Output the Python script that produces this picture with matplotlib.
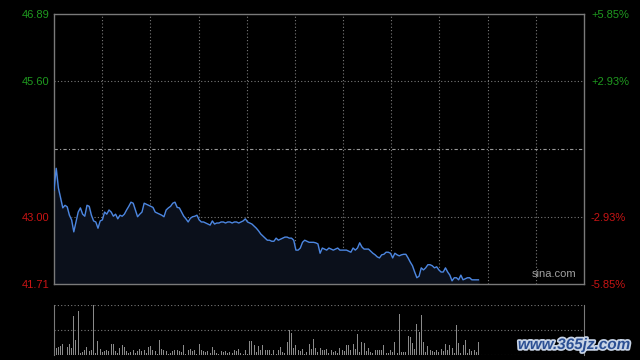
import matplotlib
matplotlib.use('Agg')
import matplotlib.pyplot as plt
import matplotlib.patheffects as pe

plt.rcParams['font.family'] = ['Liberation Sans', 'DejaVu Sans']

# price per minute (first part of the session)
price = [43.51, 43.93, 43.55, 43.36, 43.17, 43.22, 43.19, 43.03, 42.94, 42.71,
         42.90, 43.09, 43.17, 43.05, 43.01, 43.22, 43.20, 43.03, 42.92, 42.90,
         42.78, 42.92, 42.94, 43.09, 43.05, 43.13, 43.09, 43.01, 43.05, 42.96,
         43.03, 43.01, 43.05, 43.13, 43.20, 43.28, 43.26, 43.13, 43.00, 43.05,
         43.09, 43.26, 43.24, 43.22, 43.20, 43.18, 43.09, 43.07, 43.05, 43.03,
         43.00, 43.13, 43.17, 43.20, 43.26, 43.28, 43.18, 43.17, 43.09, 43.01,
         42.96, 42.90, 42.97, 43.00, 43.01, 43.03, 42.94, 42.90, 42.90, 42.88,
         42.86, 42.84, 42.92, 42.86, 42.88, 42.88, 42.90, 42.90, 42.88, 42.90,
         42.90, 42.88, 42.90, 42.90, 42.88, 42.90, 42.92, 42.96, 42.90, 42.88,
         42.86, 42.82, 42.78, 42.73, 42.67, 42.63, 42.59, 42.55, 42.55, 42.53,
         42.53, 42.59, 42.55, 42.57, 42.59, 42.61, 42.61, 42.59, 42.59, 42.55,
         42.36, 42.36, 42.40, 42.51, 42.55, 42.53, 42.51, 42.51, 42.51, 42.50,
         42.48, 42.30, 42.40, 42.38, 42.36, 42.40, 42.38, 42.36, 42.38, 42.40,
         42.36, 42.36, 42.36, 42.36, 42.34, 42.32, 42.40, 42.36, 42.40, 42.50,
         42.42, 42.38, 42.38, 42.38, 42.34, 42.30, 42.27, 42.23, 42.21, 42.27,
         42.28, 42.32, 42.32, 42.30, 42.21, 42.30, 42.27, 42.25, 42.27, 42.28,
         42.28, 42.21, 42.13, 42.06, 41.94, 41.83, 41.86, 42.02, 41.98, 42.02,
         42.08, 42.08, 42.06, 42.02, 42.04, 41.98, 41.94, 41.94, 42.02, 41.94,
         41.88, 41.77, 41.83, 41.83, 41.79, 41.88, 41.79, 41.81, 41.83, 41.83,
         41.79, 41.79, 41.79, 41.79]

volume = [90, 15, 17, 18, 22, 25, 17, 23, 15, 78, 30, 88, 5, 7, 11, 17, 9, 10, 100, 5,
          28, 13, 6, 8, 10, 8, 22, 22, 8, 5, 15, 20, 17, 8, 5, 7, 11, 5, 9, 13,
          8, 10, 5, 17, 18, 10, 8, 3, 31, 13, 11, 8, 3, 5, 9,
          10, 11, 9, 7, 20, 3, 11, 13, 8, 10, 3, 23, 10, 8, 7, 8, 5,
          17, 10, 5, 3, 8, 7, 8, 5, 7, 5, 10, 8, 13, 5, 3,
          10, 3, 28, 28, 20, 7, 18, 10, 20, 11, 11, 11, 3, 11, 3, 11, 17,
          7, 5, 27, 50, 45, 15, 20, 10, 9, 13, 3, 7, 22, 13, 33, 15, 7, 15,
          10, 11, 13, 5, 10, 7, 8, 5,
          15, 11, 9, 21, 20, 10, 23, 13, 42, 7, 27, 25, 9, 15, 7, 5, 11, 11, 10, 11,
          20, 5, 5, 10, 7, 27, 5, 82, 7, 7, 7, 38, 37, 25, 13, 62, 47, 80, 27, 7,
          18, 11, 9, 7, 10, 7, 13, 9, 23, 10, 20, 15, 5, 60, 25, 5, 20, 31, 5, 13,
          9, 11, 7, 27]

prev_close = 44.30
y_min, y_max = 41.71, 46.89
left_ticks = [46.89, 45.60, 43.00, 41.71]
left_labels = ['46.89', '45.60', '43.00', '41.71']
right_labels = ['+5.85%', '+2.93%', '-2.93%', '-5.85%']
tick_colors = ['#1f9a1f', '#1f9a1f', '#c81414', '#c81414']
n_minutes = 242

x = list(range(len(price)))

fig = plt.figure(figsize=(6.4, 3.6), dpi=100, facecolor='black')
ax = fig.add_axes([54/640, 1-284/360, 530/640, 270/360], facecolor='black')
axv = fig.add_axes([54/640, 1-355/360, 530/640, 50/360], facecolor='black')

# grid
for k in range(1, 11):
    ax.axvline((n_minutes-1)*k/11, color='#7a7a7a', lw=0.8, ls=(0, (1, 2)))
for v in [45.60, 43.00]:
    ax.axhline(v, color='#7a7a7a', lw=0.8, ls=(0, (1, 2)))
ax.axhline(prev_close, color='#9a9a9a', lw=0.8, ls=(0, (3, 2, 1, 2)))

ax.fill_between(x, price, y_min, color='#0b101b', zorder=2)
ax.plot(x, price, color='#4c86e0', lw=1.0, zorder=3)

ax.set_xlim(0, n_minutes-1)
ax.set_ylim(y_min, y_max)
ax.set_xticks([])
ax.set_yticks(left_ticks)
ax.set_yticklabels(left_labels, fontsize=8)
ax.tick_params(axis='y', length=0, pad=3)
for lab, c in zip(ax.get_yticklabels(), tick_colors):
    lab.set_color(c)
for s in ax.spines.values():
    s.set_color('#7a7a7a')
    s.set_linewidth(1.0)

axr = ax.twinx()
axr.set_ylim(y_min, y_max)
axr.set_yticks(left_ticks)
axr.set_yticklabels(right_labels, fontsize=8)
axr.tick_params(axis='y', length=0, pad=5)
for lab, c in zip(axr.get_yticklabels(), tick_colors):
    lab.set_color(c)
for s in axr.spines.values():
    s.set_visible(False)

ax.text(0.985, 0.02, 'sina.com', transform=ax.transAxes, ha='right', va='bottom',
        color='#a0a0a0', fontsize=8, zorder=5)

# volume panel
axv.bar(x, volume, width=0.45, color='#8a8a8a', zorder=3)
axv.set_xlim(0, n_minutes-1)
axv.set_ylim(0, 100)
for v in [50, 100]:
    axv.axhline(v, color='#7a7a7a', lw=0.8, ls=(0, (1, 2)))
axv.axhline(0, color='#5a5a5a', lw=0.8, ls=(0, (1, 2)))
axv.set_xticks([])
axv.set_yticks([])
for side in ['top', 'bottom']:
    axv.spines[side].set_visible(False)
for side in ['left', 'right']:
    axv.spines[side].set_color('#7a7a7a')

fig.text(574/640, 1-345/360, 'www.365jz.com', ha='center', va='center',
         color='#2b4f93', fontsize=11, fontweight='bold', style='italic',
         path_effects=[pe.withStroke(linewidth=2.5, foreground='#c8d4e6')])

fig.savefig('out.png', dpi=100, facecolor='black')
